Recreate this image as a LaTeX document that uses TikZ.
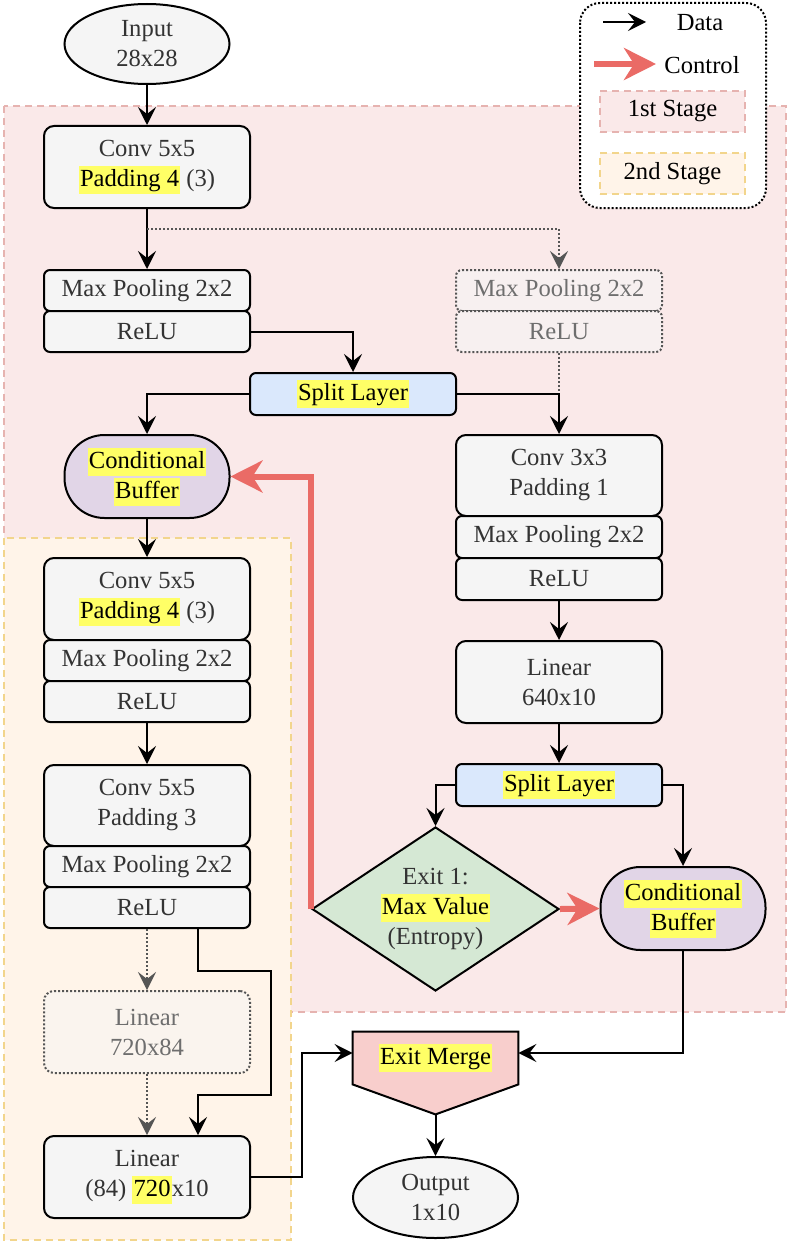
\documentclass[tikz,border=0pt]{standalone}
\usepackage{fontspec}
\setmainfont{Liberation Serif}
\usetikzlibrary{arrows.meta,shapes.geometric,calc}
\definecolor{boxfill}{HTML}{F5F5F5}
\definecolor{txt}{HTML}{333333}
\definecolor{dtxt}{HTML}{6E6E6E}
\definecolor{dline}{HTML}{555555}
\definecolor{bluef}{HTML}{DAE8FC}
\definecolor{purpf}{HTML}{E1D5E7}
\definecolor{greenf}{HTML}{D5E8D4}
\definecolor{redf}{HTML}{F8CECC}
\definecolor{yhl}{HTML}{FFFF66}
\definecolor{ctrlc}{HTML}{EA6B66}
\definecolor{sonef}{HTML}{FAE9E9}
\definecolor{sonel}{HTML}{E6B3B0}
\definecolor{stwof}{HTML}{FFF4E9}
\definecolor{stwol}{HTML}{F2D58C}
\definecolor{dotfa}{HTML}{F7F0F0}
\definecolor{dotfb}{HTML}{FAF4EE}
\newcommand\hl[1]{{\setlength{\fboxsep}{0pt}\colorbox{yhl}{\rule[-3.6pt]{0pt}{14pt}\kern0.6pt\textcolor{black}{#1}\kern0.6pt}}}
\tikzset{
  base/.style={line width=1pt, draw=black, align=center, inner sep=0pt, text=txt, font=\fontsize{12.3}{15}\selectfont},
  bigbox/.style={base, fill=boxfill, rounded corners=5pt, minimum width=103pt, minimum height=41pt},
  smallbox/.style={base, fill=boxfill, rounded corners=3pt, minimum width=103pt, minimum height=20.5pt},
  dotsmall/.style={smallbox, draw=dline, fill=dotfa, text=dtxt, dash pattern=on 1pt off 1pt},
  dotbig/.style={bigbox, draw=dline, fill=dotfb, text=dtxt, dash pattern=on 1pt off 1pt},
  splitbox/.style={base, fill=bluef, rounded corners=3pt, minimum width=103pt, minimum height=21pt},
  bufbox/.style={base, fill=purpf, rounded corners=20pt, minimum width=82.5pt, minimum height=41.5pt},
  ellnode/.style={base, fill=boxfill, ellipse, minimum width=82.5pt, minimum height=40pt},
  dianode/.style={base, fill=greenf, diamond, aspect=1.5, minimum width=123.5pt, minimum height=82pt},
  arr/.style={line width=1pt, draw=black, -{Stealth[length=9pt,width=9pt,inset=3.5pt]}},
  line/.style={line width=1pt, draw=black},
  dotarr/.style={line width=1pt, draw=dline, dash pattern=on 1pt off 1pt, -{Stealth[length=9pt,width=9pt,inset=3.5pt,fill=dline]}},
  dotline/.style={line width=1pt, draw=dline, dash pattern=on 1pt off 1pt},
  ctrl/.style={line width=3pt, draw=ctrlc, miter limit=10, -{Stealth[length=16pt,width=16pt,inset=5pt]}},
  stageone/.style={draw=sonel, fill=sonef, line width=1pt, dash pattern=on 3.5pt off 2.5pt},
  stagetwo/.style={draw=stwol, fill=stwof, line width=1pt, dash pattern=on 3.5pt off 2.5pt},
  legtext/.style={font=\fontsize{12.3}{15}\selectfont, text=black, inner sep=0pt},
}
\begin{document}
\begin{tikzpicture}[x=0.5pt,y=-0.5pt]
\useasboundingbox (0,0) rectangle (789,1247);
% stage regions
\draw[stageone] (4,106) rectangle (786,1012);
\draw[stagetwo] (4,538) rectangle (291,1240);
% legend
\draw[line width=1pt, draw=black, fill=white, rounded corners=10pt, dash pattern=on 1pt off 1pt] (580,3) rectangle (766,208);
\coordinate (da) at (603,22);
\coordinate (db) at (646,22);
\draw[arr] (da) -- (db);
\node[legtext] (ldata) at (700,23) {Data};
\coordinate (ca) at (594,64);
\coordinate (cb) at (656,64);
\draw[ctrl] (ca) -- (cb);
\node[legtext] (lctrl) at (702,65) {Control};
\node[stageone, legtext, minimum width=72.5pt, minimum height=20.5pt] (lone) at (672.5,111.5) {1st Stage};
\node[stagetwo, legtext, minimum width=72.5pt, minimum height=20.5pt] (ltwo) at (672.5,173.5) {2nd Stage};
% nodes
\node[ellnode] (in) at (147,44) {Input\\28x28};
\node[bigbox] (conv1) at (147,167) {Conv 5x5\\\hl{Padding 4} (3)};
\node[smallbox] (mp1) at (147,290.5) {Max Pooling 2x2};
\node[smallbox] (relu1) at (147,331.5) {ReLU};
\node[dotsmall] (mp1d) at (559,290.5) {Max Pooling 2x2};
\node[dotsmall] (relu1d) at (559,331.5) {ReLU};
\node[splitbox] (split1) at (353,394) {\hl{Split Layer}};
\node[bufbox] (cb1) at (147,476.5) {\hl{Conditional}\\\hl{Buffer}};
\node[bigbox, minimum height=40.5pt] (conv3) at (559,475.5) {Conv 3x3\\Padding 1};
\node[smallbox, minimum height=21pt] (mp3) at (559,537) {Max Pooling 2x2};
\node[smallbox, minimum height=21pt] (relu3) at (559,579) {ReLU};
\node[bigbox] (lin640) at (559,682) {Linear\\640x10};
\node[splitbox] (split2) at (559,785) {\hl{Split Layer}};
\node[dianode] (dia) at (435.5,909) {Exit 1:\\\hl{Max Value}\\(Entropy)};
\node[bufbox] (cb2) at (683,908.5) {\hl{Conditional}\\\hl{Buffer}};
% second stage column
\node[bigbox] (conv2) at (147,599) {Conv 5x5\\\hl{Padding 4} (3)};
\node[smallbox] (mp2) at (147,660.5) {Max Pooling 2x2};
\node[smallbox] (relu2) at (147,701.5) {ReLU};
\node[bigbox, minimum height=40.5pt] (conv4) at (147,805.5) {Conv 5x5\\Padding 3};
\node[smallbox] (mp4) at (147,866.5) {Max Pooling 2x2};
\node[smallbox] (relu4) at (147,907.5) {ReLU};
\node[dotbig] (lind) at (147,1032) {Linear\\720x84};
\node[bigbox] (linf) at (147,1177) {Linear\\(84) \hl{720}x10};
% exit merge
\node[minimum width=82.5pt, minimum height=26pt, inner sep=0pt] (merge) at (435.5,1058) {};
\draw[line width=1pt, draw=black, fill=redf] (merge.north west) -- (merge.north east) -- (merge.south east) -- ($(merge.south)+(0,30)$) -- (merge.south west) -- cycle;
\node[base, draw=none, text=black] (mergetext) at (merge.center) {\hl{Exit Merge}};
\node[ellnode, minimum height=40.5pt] (out) at (435.5,1197.5) {Output\\1x10};
% connectors
\draw[arr] (in.south) -- (conv1.north);
\draw[arr] (conv1.south) -- (mp1.north);
\draw[dotarr] ($(conv1.south)+(0,20)$) -| (mp1d.north);
\draw[arr] (relu1.east) -| (split1.north);
\draw[dotline] (relu1d.south) -- (relu1d.south |- split1.east);
\draw[arr] (split1.west) -| (cb1.north);
\draw[arr] (split1.east) -| (conv3.north);
\draw[arr] (cb1.south) -- (conv2.north);
\draw[arr] (relu2.south) -- (conv4.north);
\draw[dotarr] (relu4.south) -- (lind.north);
\draw[dotarr] (lind.south) -- (linf.north);
\draw[arr] ($(relu4.south)+(51,0)$) -- ++(0,42) -- ++(73,0) -- ++(0,124) -- ++(-73,0) -- ($(linf.north)+(51,0)$);
\draw[arr] (linf.east) -- ++(51,0) |- ($(merge.west)+(0,-5)$);
\draw[arr] (relu3.south) -- (lin640.north);
\draw[arr] (lin640.south) -- (split2.north);
\draw[arr] (split2.west) -| (dia.north);
\draw[arr] (split2.east) -| (cb2.north);
\draw[arr] (cb2.south) |- ($(merge.east)+(0,-5)$);
\draw[arr] ($(merge.south)+(0,30)$) -- (out.north);
\draw[ctrl] (dia.west) |- (cb1.east);
\draw[ctrl] (dia.east) -- (cb2.west);
\end{tikzpicture}
\end{document}
